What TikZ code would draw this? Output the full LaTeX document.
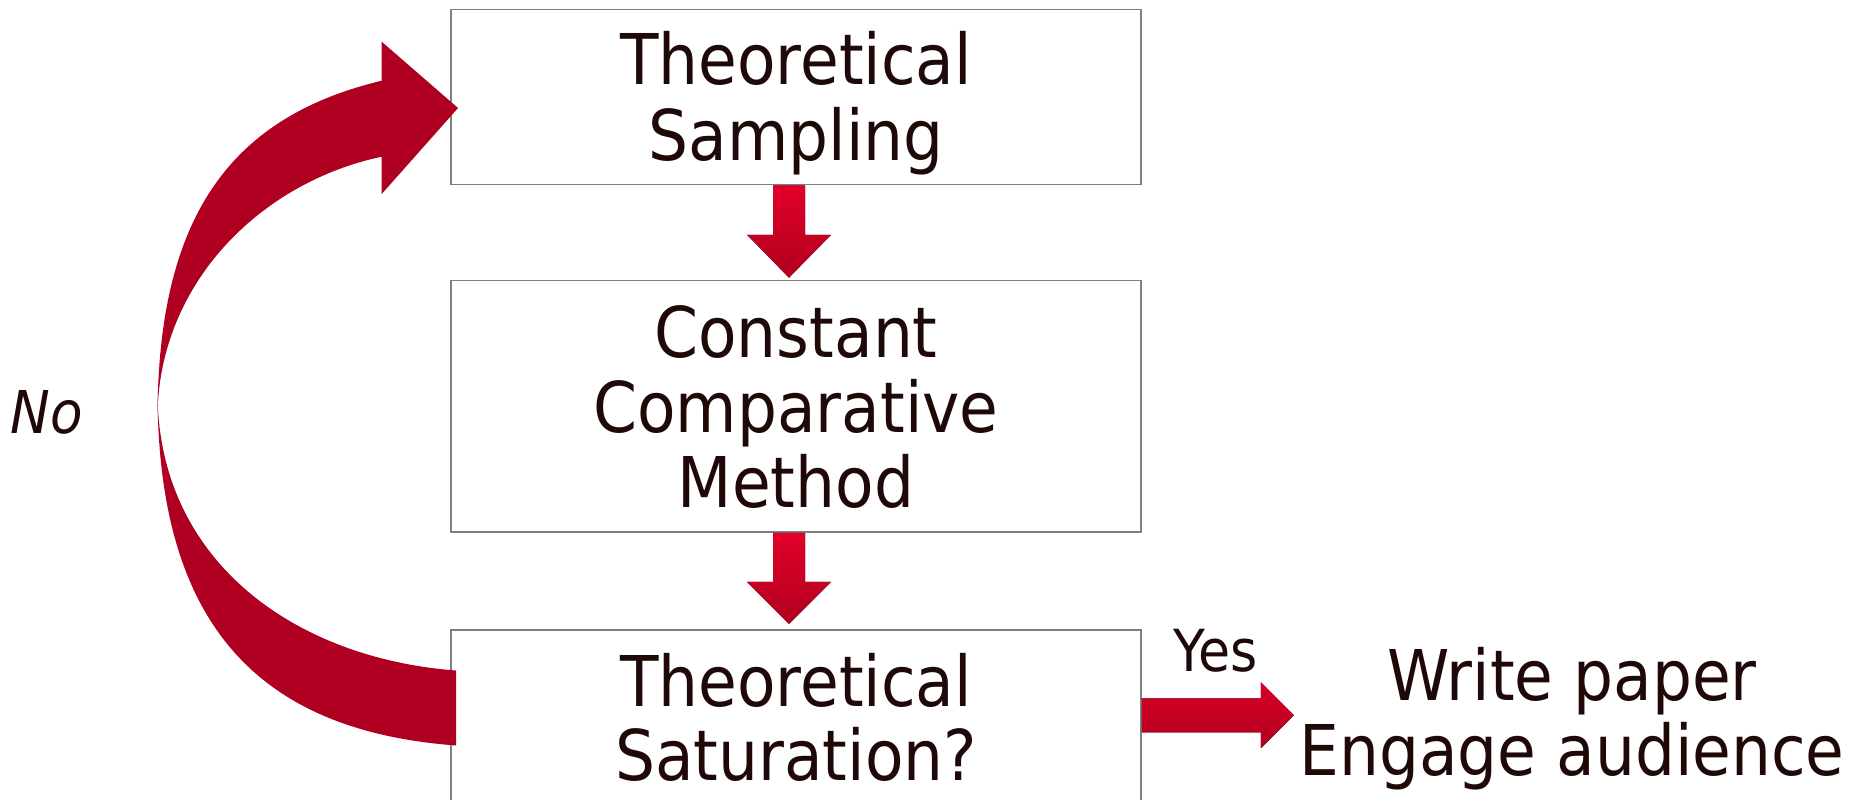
\documentclass[tikz,border=0pt]{standalone}
\usepackage{fontspec}
\setmainfont{DejaVu Sans}[FakeStretch=0.9]
\usetikzlibrary{calc}
\definecolor{txt}{RGB}{30,8,8}
\definecolor{boxline}{RGB}{127,127,127}
\definecolor{redtop}{RGB}{226,0,42}
\definecolor{redbot}{RGB}{176,0,30}
\definecolor{curvred}{RGB}{176,0,34}
\begin{document}
\begin{tikzpicture}[x=0.5pt,y=-0.5pt,
  box/.style={draw=boxline,line width=0.75pt,minimum width=345pt,inner sep=0pt,fill=white},
  lbl/.style={anchor=base,inner sep=0pt,text=txt,font=\fontsize{35pt}{38pt}\selectfont},
  small/.style={anchor=base,inner sep=0pt,text=txt,font=\fontsize{29pt}{32pt}\selectfont},
  nolbl/.style={anchor=base,inner sep=0pt,text=txt,font=\fontsize{29.5pt}{32pt}\selectfont\itshape},
  straightarrow/.style={top color=redtop,bottom color=redbot,draw=none},
  curvarrow/.style={fill=curvred,draw=none}]
\useasboundingbox (0,0) rectangle (1852,799);
\clip (0,0) rectangle (1852,799);
\fill[white] (0,0) rectangle (1852,799);

% boxes
\node[box,minimum height=87.5pt] (b1) at (796,97) {};
\node[box,minimum height=125.75pt] (b2) at (796,406.25) {};
\node[box,minimum height=100pt] (b3) at (796,730) {};

% texts
\node[lbl] (t1a) at (796,84) {Theoretical};
\node[lbl] (t1b) at (796,160) {Sampling};
\node[lbl] (t2a) at (796,357) {Constant};
\node[lbl] (t2b) at (796,432) {Comparative};
\node[lbl] (t2c) at (796,507) {Method};
\node[lbl] (t3a) at (796,706) {Theoretical};
\node[lbl] (t3b) at (796,780) {Saturation?};
\node[lbl] (w1) at (1572,700) {Write paper};
\node[lbl] (w2) at (1572,775) {Engage audience};
\node[small] (yes) at (1216,671) {Yes};
\node[nolbl] (no) at (47,433) {No};

% straight arrows
\coordinate (a1s) at ($(b1.south)+(-7,0)$);
\coordinate (a2s) at ($(b2.south)+(-7,0)$);
\coordinate (ay) at ($(b3.north east)+(0,86)$);
\fill[straightarrow] (a1s) ++(-16,0) -- ++(32,0) -- ++(0,49.5) -- ++(26,0) -- ++(-42,43) -- ++(-42,-43) -- ++(26,0) -- cycle;
\fill[straightarrow] (a2s) ++(-16,0) -- ++(32,0) -- ++(0,49) -- ++(26,0) -- ++(-42,42) -- ++(-42,-42) -- ++(26,0) -- cycle;
\fill[top color=redtop!95!black,bottom color=redbot] (ay) ++(0,-17) -- ++(119,0) -- ++(0,-16) -- ++(33,33) -- ++(-33,33) -- ++(0,-16) -- ++(-119,0) -- cycle;

% curved arrow (No loop): lower band from the third box
\fill[curvarrow]
  (157.5,392) .. controls (157.5,622) and (256,730.5) .. (456,745.5)
  -- (456,670.5) .. controls (296,658.5) and (157.5,562) .. (157.5,392) -- cycle;
% upper band with head into the first box
\fill[curvarrow]
  (157.5,418) .. controls (157.5,215) and (231.7,116.7) .. (381.7,80.7)
  -- (381.7,41.7) -- (458,108) -- (381.7,194) -- (381.7,156.7)
  .. controls (261.7,181.9) and (157.5,283) .. (157.5,418) -- cycle;
\end{tikzpicture}
\end{document}
